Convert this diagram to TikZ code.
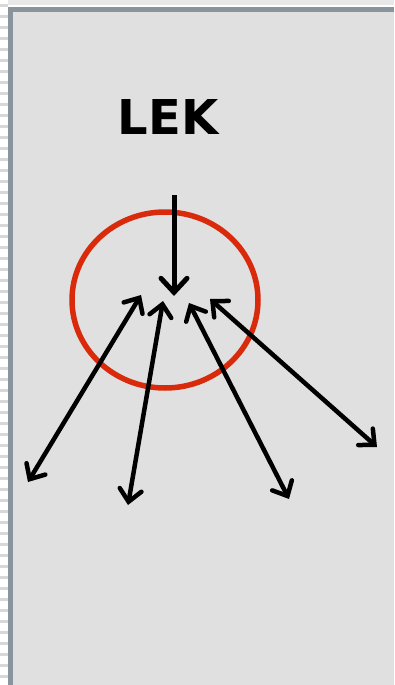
\documentclass[tikz,border=0pt]{standalone}
\usepackage{fontspec}
\setsansfont{DejaVu Sans}
\usetikzlibrary{arrows.meta, positioning, calc, shapes.geometric}
\definecolor{panelbg}{HTML}{E0E0E0}
\definecolor{panelborder}{HTML}{8A949C}
\definecolor{stripebg}{HTML}{D8D8D8}
\definecolor{ringred}{HTML}{D92A0C}
\tikzset{
  titletext/.style={
    font=\sffamily\bfseries\fontsize{48}{50}\selectfont,
    text=black,
    inner sep=0pt
  },
  ring/.style={
    draw=ringred,
    line width=5.5pt,
    ellipse,
    minimum width=186pt,
    minimum height=176pt,
    inner sep=0pt
  },
  inarrow/.style={
    -{Straight Barb[length=14pt, width=26pt, line cap=round]},
    line width=5pt,
    color=black
  },
  botharrow/.style={
    {Straight Barb[length=12pt, width=22pt, line cap=round]}-{Straight Barb[length=12pt, width=22pt, line cap=round]},
    line width=4.5pt,
    color=black
  }
}
\begin{document}
\begin{tikzpicture}[x=1pt, y=-1pt]
  \useasboundingbox (0,0) rectangle (394,685);

  % Panel
  \fill[white] (0,0) rectangle (394,685);
  \foreach \yy in {4,15,...,685}
    \fill[stripebg] (0,\yy) rectangle (8,\yy+3);
  \fill[stripebg!60] (8,0) rectangle (394,5);
  \fill[panelbg] (8,7) rectangle (394,685);
  \fill[panelborder] (8,7) rectangle (394,12);
  \fill[panelborder] (8,7) rectangle (13,685);

  % Title and ring
  \node (title) [titletext] at (168,117) {LEK};
  \node (hub) [ring] at (165,300) {};

  % Arrow ends
  \coordinate (top) at (174,195);
  \coordinate (hubtop) at (174,296);
  \coordinate (in1) at (141,295);
  \coordinate (in2) at (163,301);
  \coordinate (in3) at (189,303);
  \coordinate (in4) at (210,299);
  \coordinate (out1) at (28,482);
  \coordinate (out2) at (128,505);
  \coordinate (out3) at (289,499);
  \coordinate (out4) at (377,447);

  % Connectors
  \draw [inarrow] (top) -- (hubtop);
  \draw [botharrow] (in1) -- (out1);
  \draw [botharrow] (in2) -- (out2);
  \draw [botharrow] (in3) -- (out3);
  \draw [botharrow] (in4) -- (out4);

\end{tikzpicture}
\end{document}
